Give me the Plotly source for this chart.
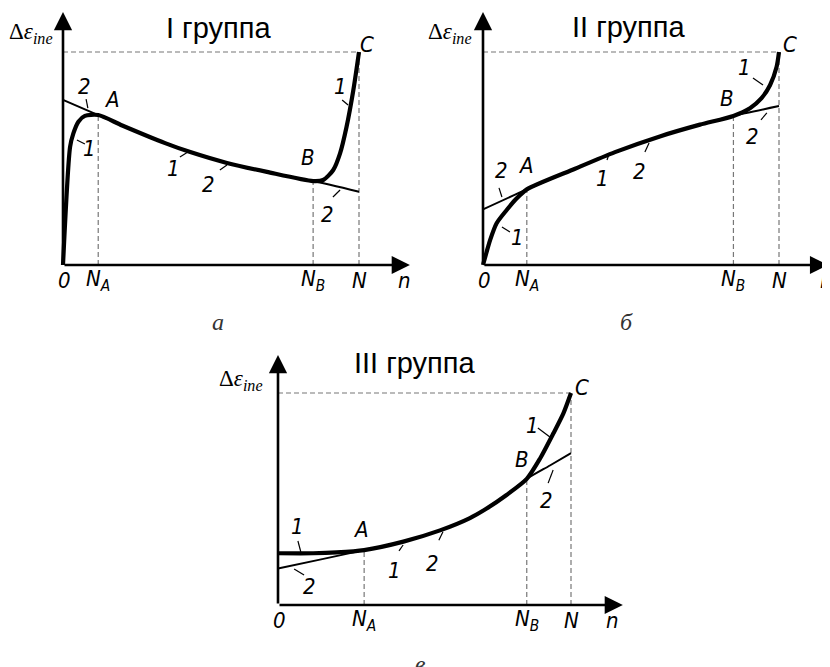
import plotly.graph_objects as go

# Все координаты в долях: x — доля от N, y — доля от значения в точке C

# I группа (а)
a_l2_x = [0, 0.119, 0.2, 0.345, 0.43, 0.554, 0.689, 0.845, 1]
a_l2_y = [0.775, 0.704, 0.655, 0.572, 0.53, 0.479, 0.437, 0.394, 0.344]
a_l1_x = [0, 0.024, 0.035, 0.052, 0.074, 0.119, 0.2, 0.345, 0.43, 0.554, 0.689, 0.845,
          0.879, 0.913, 0.936, 0.958, 0.981, 1]
a_l1_y = [0, 0.555, 0.618, 0.673, 0.7, 0.704, 0.655, 0.572, 0.53, 0.479, 0.437, 0.394,
          0.399, 0.446, 0.524, 0.649, 0.822, 1]
a_marks = [0.119, 0.845]          # N_A, N_B
a_marks_y = [0.704, 0.394]

# II группа (б)
b_l2_x = [0, 0.148, 0.311, 0.446, 0.6, 0.733, 0.846, 1]
b_l2_y = [0.261, 0.355, 0.452, 0.53, 0.605, 0.659, 0.7, 0.746]
b_l1_x = [0, 0.012, 0.024, 0.046, 0.08, 0.114, 0.148, 0.311, 0.446, 0.6, 0.733, 0.846,
          0.902, 0.941, 0.97, 0.992, 1]
b_l1_y = [0, 0.06, 0.117, 0.196, 0.258, 0.313, 0.355, 0.452, 0.53, 0.605, 0.659, 0.7,
          0.736, 0.783, 0.845, 0.931, 1]
b_marks = [0.148, 0.846]
b_marks_y = [0.355, 0.7]

# III группа (в)
c_l2_x = [0, 0.143, 0.294, 0.428, 0.553, 0.655, 0.712, 0.78, 0.849, 0.928, 1]
c_l2_y = [0.172, 0.214, 0.259, 0.299, 0.352, 0.41, 0.455, 0.519, 0.595, 0.658, 0.716]
c_l1_x = [0, 0.12, 0.2, 0.294, 0.428, 0.553, 0.655, 0.712, 0.78, 0.849, 0.894, 0.94, 0.974, 1]
c_l1_y = [0.244, 0.244, 0.248, 0.259, 0.299, 0.352, 0.41, 0.455, 0.519, 0.595, 0.69, 0.81,
          0.904, 1]
c_marks = [0.294, 0.849]
c_marks_y = [0.259, 0.595]

# подписи кривых: (текст, x, y) и выноски (x0, y0, x1, y1)
a_labels = [("2", 0.074, 0.836), ("A", 0.166, 0.775), ("1", 0.088, 0.549), ("1", 0.372, 0.455),
            ("2", 0.49, 0.376), ("B", 0.828, 0.507), ("2", 0.895, 0.235), ("1", 0.936, 0.836),
            ("C", 1.027, 1.033)]
a_leaders = [(0.078, 0.779, 0.084, 0.737), (0.047, 0.587, 0.074, 0.568), (0.395, 0.507, 0.422, 0.531),
             (0.53, 0.446, 0.554, 0.469), (0.912, 0.319, 0.936, 0.352), (0.943, 0.775, 0.963, 0.751)]
b_labels = [("2", 0.064, 0.446), ("A", 0.145, 0.469), ("1", 0.115, 0.131), ("1", 0.405, 0.408),
            ("2", 0.53, 0.437), ("B", 0.824, 0.784), ("2", 0.912, 0.601), ("1", 0.885, 0.925),
            ("C", 1.037, 1.033)]
b_leaders = [(0.054, 0.362, 0.064, 0.319), (0.064, 0.178, 0.091, 0.155), (0.419, 0.493, 0.426, 0.521),
             (0.547, 0.531, 0.561, 0.573), (0.939, 0.681, 0.959, 0.714), (0.912, 0.878, 0.946, 0.845)]
c_labels = [("1", 0.068, 0.368), ("2", 0.109, 0.085), ("A", 0.283, 0.354), ("1", 0.399, 0.165),
            ("2", 0.526, 0.198), ("B", 0.833, 0.684), ("2", 0.918, 0.495), ("1", 0.867, 0.849),
            ("C", 1.038, 1.028)]
c_leaders = [(0.068, 0.302, 0.078, 0.25), (0.055, 0.17, 0.089, 0.142), (0.413, 0.255, 0.427, 0.283),
             (0.549, 0.305, 0.563, 0.345), (0.922, 0.575, 0.939, 0.637), (0.887, 0.835, 0.928, 0.792)]

titles = ["I группа", "II группа", "III группа"]
title_pos = [(0.524, 1.113), (0.49, 1.117), (0.468, 1.142)]
ylabel_pos = [(-0.108, 1.09), (-0.111, 1.09), (-0.126, 1.061)]
captions = ["а", "б", "в"]
caption_pos = [(0.524, -0.268), (0.486, -0.268), (0.485, -0.278)]
tick_text = ["0", "N<sub>A</sub>", "N<sub>B</sub>", "N", "n"]
n_pos = [1.155, 1.159, 1.14]

# размещение панелей в пикселях страницы: начало координат, масштаб, рамка области
W, H = 830, 667
OFF = 8                     # отступ body на странице
FW, FH = W - OFF, H - OFF
panels = [
    dict(o=(63, 265), s=(296, 213), box=(8, 420, 8, 335), tip=(1.172, 1.188)),
    dict(o=(483, 265), s=(296, 213), box=(420, 830, 8, 335), tip=(1.166, 1.188)),
    dict(o=(278, 605), s=(293, 212), box=(200, 640, 335, 667), tip=(1.177, 1.179)),
]
curves = [(a_l1_x, a_l1_y, a_l2_x, a_l2_y), (b_l1_x, b_l1_y, b_l2_x, b_l2_y),
          (c_l1_x, c_l1_y, c_l2_x, c_l2_y)]
marks = [(a_marks, a_marks_y), (b_marks, b_marks_y), (c_marks, c_marks_y)]
labels = [a_labels, b_labels, c_labels]
leaders = [a_leaders, b_leaders, c_leaders]

ITAL = "Liberation Sans Narrow, DejaVu Sans Condensed, Arial Narrow, sans-serif"
SERIF = "Liberation Serif, Times New Roman, serif"

fig = go.Figure()
annotations = []

for i, p in enumerate(panels):
    ox, oy = p["o"]
    sx, sy = p["s"]
    L, R, T, B = p["box"]
    xa = "x" if i == 0 else "x%d" % (i + 1)
    ya = "y" if i == 0 else "y%d" % (i + 1)
    fig.layout["xaxis" if i == 0 else "xaxis%d" % (i + 1)] = dict(
        domain=[(L - OFF) / FW, min(1, (R - OFF) / FW)], range=[(L - ox) / sx, (R - ox) / sx],
        visible=False, anchor=ya, fixedrange=True)
    fig.layout["yaxis" if i == 0 else "yaxis%d" % (i + 1)] = dict(
        domain=[max(0, 1 - (B - OFF) / FH), 1 - (T - OFF) / FH], range=[(oy - B) / sy, (oy - T) / sy],
        visible=False, anchor=xa, fixedrange=True)

    mx, my = marks[i]
    dash = dict(color="#777", width=1.2, dash="5px,3px")
    # штриховые линии
    for x, y in zip(mx, my):
        fig.add_trace(go.Scatter(x=[x, x], y=[0, y], mode="lines", line=dash, xaxis=xa, yaxis=ya))
    fig.add_trace(go.Scatter(x=[1, 1], y=[0, 1], mode="lines", line=dash, xaxis=xa, yaxis=ya))
    fig.add_trace(go.Scatter(x=[0, 1], y=[1, 1], mode="lines", line=dash, xaxis=xa, yaxis=ya))

    l1x, l1y, l2x, l2y = curves[i]
    fig.add_trace(go.Scatter(x=l2x, y=l2y, mode="lines", xaxis=xa, yaxis=ya,
                             line=dict(color="black", width=2, shape="spline", smoothing=0.7)))
    fig.add_trace(go.Scatter(x=l1x, y=l1y, mode="lines", xaxis=xa, yaxis=ya,
                             line=dict(color="black", width=4.2, shape="spline", smoothing=0.7)))

    for x0, y0, x1, y1 in leaders[i]:
        fig.add_trace(go.Scatter(x=[x0, x1], y=[y0, y1], mode="lines", xaxis=xa, yaxis=ya,
                                 line=dict(color="black", width=1.2)))

    # оси со стрелками
    tx, ty = p["tip"]
    for x, y in [(tx, 0), (0, ty)]:
        annotations.append(dict(x=x, y=y, ax=0, ay=0, xref=xa, yref=ya, axref=xa, ayref=ya,
                                text="", showarrow=True, arrowhead=2, arrowsize=1.4,
                                arrowwidth=2.6, arrowcolor="black"))

    for t, x, y in labels[i]:
        annotations.append(dict(x=x, y=y, xref=xa, yref=ya, text=t, showarrow=False,
                                font=dict(family=ITAL, size=22, color="black", style="italic")))

    # подписи по оси n
    tick_x = [0.005, mx[0], mx[1], 1, n_pos[i]]
    for t, x in zip(tick_text, tick_x):
        annotations.append(dict(x=x, y=-0.072, xref=xa, yref=ya, text=t, showarrow=False,
                                yanchor="middle", xanchor="center",
                                font=dict(family=ITAL, size=22, color="black", style="italic")))

    annotations.append(dict(x=title_pos[i][0], y=title_pos[i][1], xref=xa, yref=ya, text=titles[i],
                            showarrow=False, yanchor="middle",
                            font=dict(family="Liberation Sans, Arial", size=29, color="black")))
    annotations.append(dict(x=ylabel_pos[i][0], y=ylabel_pos[i][1], xref=xa, yref=ya,
                            text="Δ<i>ε</i><sub><i>ine</i></sub>", showarrow=False,
                            font=dict(family=SERIF, size=23, color="black")))
    annotations.append(dict(x=caption_pos[i][0], y=caption_pos[i][1], xref=xa, yref=ya,
                            text=captions[i], showarrow=False,
                            font=dict(family=SERIF, size=24, color="#333", style="italic")))

fig.update_layout(width=FW, height=FH, margin=dict(l=0, r=0, t=0, b=0),
                  paper_bgcolor="white", plot_bgcolor="white", showlegend=False,
                  annotations=annotations)

fig.write_html("out.html")
